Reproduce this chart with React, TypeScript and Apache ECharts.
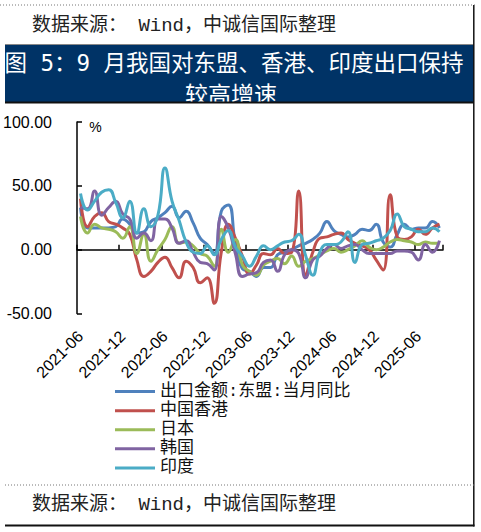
import React, { useEffect, useRef } from "react";
import * as echarts from "echarts";

const SOURCE = "数据来源： Wind，中诚信国际整理";
const TITLE_1 = "图 5：9 月我国对东盟、香港、印度出口保持";
const TITLE_2 = "较高增速";
const UNIT = "%";

const months = [
  "2021-06", "2021-07", "2021-08", "2021-09", "2021-10", "2021-11", "2021-12",
  "2022-01", "2022-02", "2022-03", "2022-04", "2022-05", "2022-06", "2022-07",
  "2022-08", "2022-09", "2022-10", "2022-11", "2022-12", "2023-01", "2023-02",
  "2023-03", "2023-04", "2023-05", "2023-06", "2023-07", "2023-08", "2023-09",
  "2023-10", "2023-11", "2023-12", "2024-01", "2024-02", "2024-03", "2024-04",
  "2024-05", "2024-06", "2024-07", "2024-08", "2024-09", "2024-10", "2024-11",
  "2024-12", "2025-01", "2025-02", "2025-03", "2025-04", "2025-05", "2025-06",
  "2025-07", "2025-08", "2025-09",
];

const seriesNames = ["出口金额:东盟:当月同比", "中国香港", "日本", "韩国", "印度"];

const asean = [33, 17, 17, 17, 17, 18, 24, 20, 13, 14, 22, 25, 29, 34, 25, 30, 21, 9, 4, -3, 30, 35, 5, -15, -17, -21, -14, -14, -4, -2, 0, 3, 5, 8, 13, 22, 15, 12, 10, 12, 16, 15, 20, 6, 2, 12, 20, 16, 17, 17, 22, 17];
const hongKong = [40, 18, 26, 29, 22, 20, 17, 12, -8, -21, -17, -10, -6, -14, -22, -9, -14, -26, -22, -42, -2, 20, 9, -5, -19, -12, -3, -4, 1, -3, -2, 46, -20, -2, 9, 10, 12, 13, 8, 5, 3, 0, -8, -16, 43, 10, 8, 10, 16, 12, 17, 20];
const japan = [26, 13, 20, 17, 16, 14, 9, 18, -3, 12, -9, 0, 8, 18, 5, 6, 3, -3, -5, -13, 16, -2, 8, -12, -17, -20, -12, -9, -7, -11, -5, -13, -9, -7, -4, -1, 1, -2, 0, 3, 7, 2, 0, 2, 6, 8, 7, 6, 4, 6, 5, 5];
const korea = [33, 32, 46, 27, 33, 38, 28, 24, 9, 13, 7, 24, 24, 17, 5, 7, -2, -10, -11, -16, 26, 17, -3, -21, -19, -18, -10, -8, -17, -4, 0, -3, -22, -8, -5, 1, 4, 1, 3, 4, 0, -3, -3, -3, -3, -1, -1, -2, -8, 4, -2, 7];
const india = [44, 31, 38, 45, 47, 37, 25, 38, 13, 32, 18, 27, 64, 38, 23, 6, -2, -3, 3, -4, 8, 15, 2, -5, -13, -5, 3, 0, 3, 6, 7, 12, -5, -20, -2, 4, 4, 6, 14, -10, 4, 5, 7, 9, 15, 28, 18, 16, 14, 14, 17, 14];

const seriesData = [asean, hongKong, japan, korea, india];
const colors = ["#4F81BD", "#C0504D", "#9BBB59", "#8064A2", "#4BACC6"];

const yMin = -50;
const yMax = 100;
const yStep = 50;

const MONO_CJK = '"Liberation Mono", "Noto Sans CJK SC", monospace';
const TITLE_FONT = '"DejaVu Sans Mono", "Noto Sans CJK SC", sans-serif';
const LATIN = '"Liberation Sans", Arial, sans-serif';

export default function App() {
  const ref = useRef<HTMLDivElement>(null);

  useEffect(() => {
    if (!ref.current) return;
    const chart = echarts.init(ref.current, null, { renderer: "svg" });
    const axisLineStyle = { color: "#000", width: 1.5 };

    const option: any = {
      animation: false,
      backgroundColor: "#fff",
      color: colors,
      textStyle: { fontFamily: LATIN },
      grid: {
        left: 77,
        top: 122,
        width: 366,
        height: 191.5,
        containLabel: false,
        outerBoundsMode: "none",
      },
      legend: {
        orient: "vertical",
        left: 115,
        top: 382,
        padding: 0,
        itemWidth: 40,
        itemHeight: 3,
        itemGap: 0,
        icon: "rect",
        textStyle: {
          fontSize: 17,
          fontFamily: MONO_CJK,
          color: "#111",
          lineHeight: 19.1,
        },
        data: seriesNames,
      },
      xAxis: [
        {
          type: "category",
          data: months,
          boundaryGap: true,
          position: "bottom",
          axisLine: { show: false, onZero: false },
          axisTick: { show: false },
          splitLine: { show: false },
          axisLabel: {
            interval: 5,
            rotate: 45,
            margin: 20,
            fontSize: 16,
            fontFamily: LATIN,
            color: "#000",
          },
        },
        {
          type: "category",
          data: months,
          boundaryGap: true,
          position: "bottom",
          axisLine: { show: true, onZero: true, lineStyle: axisLineStyle },
          axisTick: {
            show: true,
            inside: true,
            interval: 5,
            length: 5,
            lineStyle: axisLineStyle,
          },
          axisLabel: { show: false },
          splitLine: { show: false },
        },
      ],
      yAxis: {
        type: "value",
        min: yMin,
        max: yMax,
        interval: yStep,
        axisLine: { show: true, lineStyle: axisLineStyle },
        axisTick: { show: true, inside: true, length: 5, lineStyle: axisLineStyle },
        splitLine: { show: false },
        axisLabel: {
          formatter: (v: number) => v.toFixed(2),
          margin: 25,
          fontSize: 16,
          fontFamily: LATIN,
          color: "#000",
          padding: [4, 0, 0, 0],
        },
      },
      series: seriesNames.map((name, i) => ({
        name,
        type: "line",
        xAxisIndex: 0,
        yAxisIndex: 0,
        data: seriesData[i],
        smooth: true,
        symbol: "none",
        lineStyle: { width: 3, color: colors[i] },
        itemStyle: { color: colors[i] },
      })),
      graphic: [
        {
          type: "line",
          z: 100,
          shape: { x1: 0, y1: 5, x2: 475, y2: 5 },
          style: { stroke: "#777", lineWidth: 1, lineDash: [1, 2] },
        },
        {
          type: "text",
          z: 100,
          x: 32,
          y: 25.5,
          style: {
            text: SOURCE,
            fontSize: 19,
            fontFamily: MONO_CJK,
            fill: "#222",
            align: "left",
            verticalAlign: "middle",
          },
        },
        {
          type: "rect",
          z: 90,
          shape: { x: 5, y: 44, width: 469, height: 58 },
          style: { fill: "#003366" },
        },
        {
          type: "text",
          z: 95,
          x: 234,
          y: 63,
          style: {
            text: TITLE_1,
            fontSize: 22.5,
            fontFamily: TITLE_FONT,
            fill: "#fff",
            align: "center",
            verticalAlign: "middle",
          },
        },
        {
          type: "text",
          z: 95,
          x: 231,
          y: 95,
          style: {
            text: TITLE_2,
            fontSize: 23,
            fontFamily: TITLE_FONT,
            fill: "#fff",
            align: "center",
            verticalAlign: "middle",
          },
        },
        {
          type: "line",
          z: 98,
          shape: { x1: 5, y1: 44.5, x2: 474, y2: 44.5 },
          style: { stroke: "#888", lineWidth: 1 },
        },
        {
          type: "line",
          z: 98,
          shape: { x1: 5, y1: 102.5, x2: 474, y2: 102.5 },
          style: { stroke: "#111", lineWidth: 2 },
        },
        {
          type: "line",
          z: 99,
          shape: { x1: 473.8, y1: 5, x2: 473.8, y2: 526.5 },
          style: { stroke: "#111", lineWidth: 1.5 },
        },
        {
          type: "text",
          z: 100,
          x: 95.5,
          y: 127,
          style: {
            text: UNIT,
            fontSize: 14,
            fontFamily: LATIN,
            fill: "#000",
            align: "center",
            verticalAlign: "middle",
          },
        },
        {
          type: "line",
          z: 100,
          shape: { x1: 5, y1: 485, x2: 474, y2: 485 },
          style: { stroke: "#777", lineWidth: 1, lineDash: [1, 2] },
        },
        {
          type: "text",
          z: 100,
          x: 32,
          y: 505,
          style: {
            text: SOURCE,
            fontSize: 19,
            fontFamily: MONO_CJK,
            fill: "#222",
            align: "left",
            verticalAlign: "middle",
          },
        },
        {
          type: "line",
          z: 100,
          shape: { x1: 5, y1: 525.5, x2: 474.5, y2: 525.5 },
          style: { stroke: "#111", lineWidth: 2 },
        },
      ],
    };

    chart.setOption(option);
    return () => {
      chart.dispose();
    };
  }, []);

  return (
    <div
      ref={ref}
      style={{ position: "absolute", left: 0, top: 0, width: 481, height: 532 }}
    />
  );
}
